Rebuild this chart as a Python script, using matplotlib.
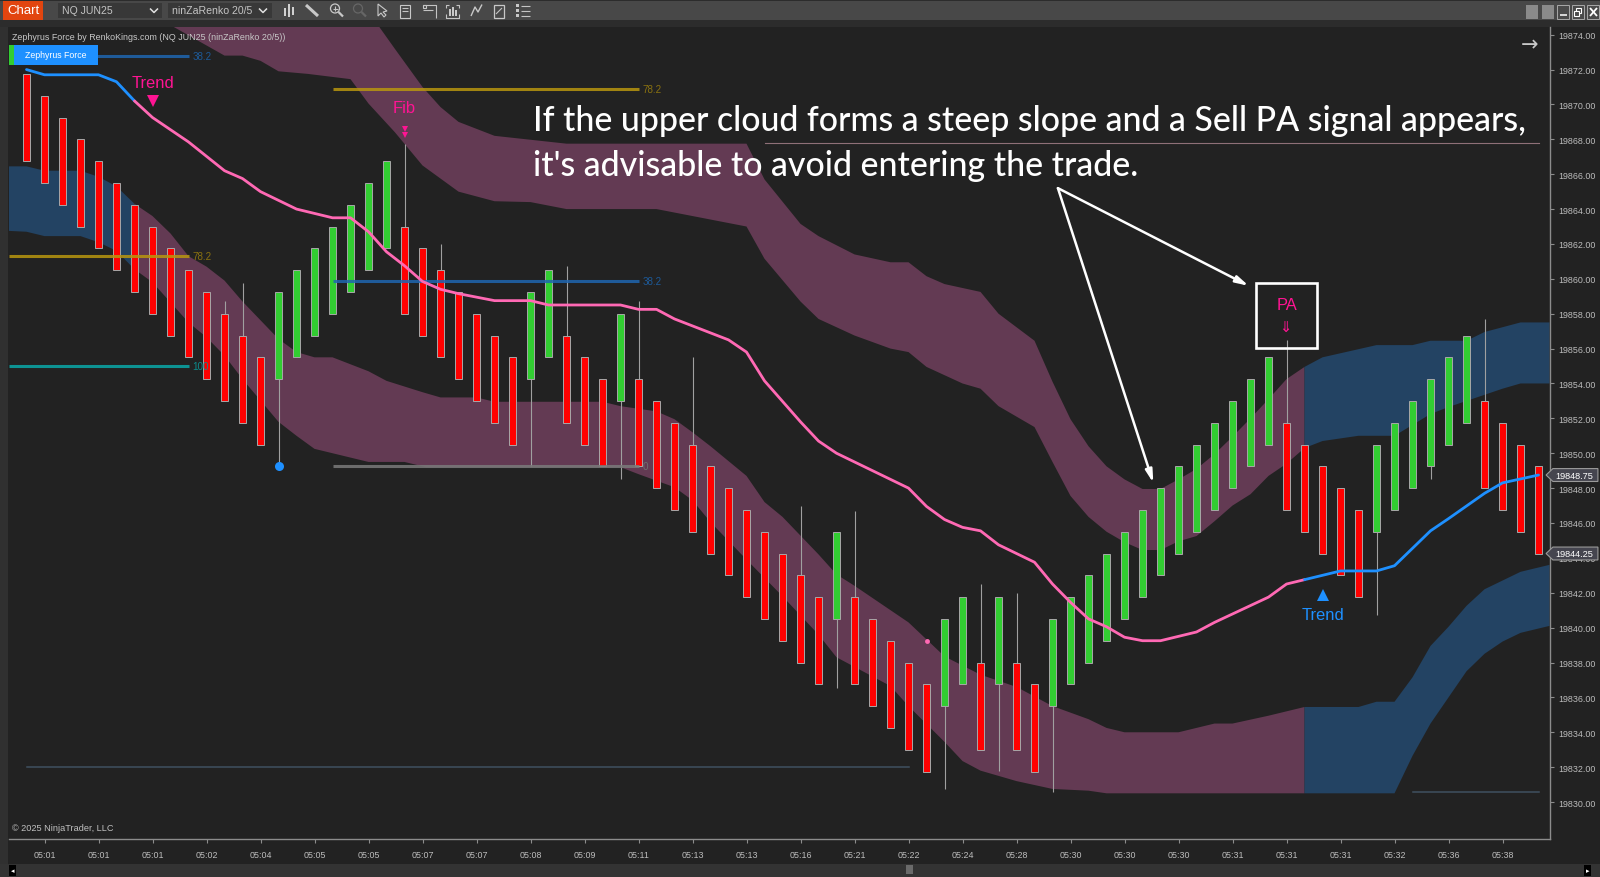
import numpy as np
import matplotlib
matplotlib.use("Agg")
import matplotlib.pyplot as plt
from matplotlib.patches import Rectangle, Polygon

plt.rcParams['font.family'] = ['Liberation Sans', 'DejaVu Sans']

# Renko bars: top of each body, R = down bar, G = up bar
bar_top = [19871.75, 19870.5, 19869.25, 19868, 19866.75, 19865.5, 19864.25, 19863, 19861.75, 19860.5,
           19859.25, 19858, 19856.75, 19855.5, 19859.25, 19860.5, 19861.75, 19863, 19864.25, 19865.5,
           19866.75, 19863, 19861.75, 19860.5, 19859.25, 19858, 19856.75, 19855.5, 19859.25, 19860.5,
           19856.75, 19855.5, 19854.25, 19858, 19854.25, 19853, 19851.75, 19850.5, 19849.25, 19848,
           19846.75, 19845.5, 19844.25, 19843, 19841.75, 19845.5, 19841.75, 19840.5, 19839.25, 19838,
           19836.75, 19840.5, 19841.75, 19838, 19841.75, 19838, 19836.75, 19840.5, 19841.75, 19843,
           19844.25, 19845.5, 19846.75, 19848, 19849.25, 19850.5, 19851.75, 19853, 19854.25, 19855.5,
           19851.75, 19850.5, 19849.25, 19848, 19846.75, 19850.5, 19851.75, 19853, 19854.25, 19855.5,
           19856.75, 19853, 19851.75, 19850.5, 19849.25]
bar_dir = "RRRRRRRRRRRRRRGGGGGGGRRRRRRRGGRRRGRRRRRRRRRRRGRRRRRGGRGRRGGGGGGGGGGGGGRRRRRGGGGGGRRRR"
brick = 5.0

# Wicks: bar index and the price the wick reaches
wick_idx = [11, 12, 14, 21, 23, 28, 30, 33, 34, 37, 43, 45, 46, 51, 53, 54, 55, 57, 70, 75, 78, 81]
wick_end = [19858.75, 19859.75, 19849.25, 19867.75, 19862, 19849.25, 19860.75, 19848.5, 19858.75, 19855.5,
            19847, 19836.55, 19846.7, 19830.75, 19842.5, 19831.8, 19842, 19830.55, 19856.5, 19840.7,
            19848.5, 19857.7]

# Upper cloud
upper_top_x = [19.56, 20.47, 22, 23, 24, 26, 30, 40, 41, 43, 44, 46, 48, 49, 50, 51, 53, 54, 56, 57, 58, 59, 60,
               61, 62, 63, 64, 65, 66, 67, 68, 69, 70, 71, 72, 75, 77, 78, 80, 81, 83, 84.61]
upper_top_y = [19874.5, 19873.18, 19871.0, 19869.85, 19869.0, 19868.2, 19867.75, 19867.75, 19865.7, 19863.15,
               19862.45, 19861.4, 19860.95, 19860.95, 19860.15, 19859.7, 19859.25, 19858.0, 19856.45, 19854.1,
               19851.95, 19850.4, 19849.25, 19848.5, 19847.95, 19847.95, 19848.5, 19849.1, 19849.95, 19850.95,
               19852.0, 19853.1, 19854.25, 19854.95, 19855.5, 19856.2, 19856.2, 19856.45, 19856.45, 19856.95,
               19857.5, 19857.5]
upper_bot_x = [8.08, 11, 12, 13, 14, 15.64, 18, 19, 20.47, 22, 24, 26, 28, 30, 35, 40, 41, 43, 44, 46, 48, 49,
               50, 52, 53, 54, 56, 57, 58, 59, 60, 61, 62, 63, 64, 65, 66, 67, 68, 69, 70, 71, 72, 74, 76, 78,
               79, 82, 83, 84.61]
upper_bot_y = [19874.5, 19872.8, 19872.8, 19872.5, 19871.9, 19871.75, 19871.45, 19870.05, 19868.4, 19866.5,
               19865.0, 19864.45, 19864.4, 19864.0, 19864.0, 19863.0, 19861.15, 19858.7, 19857.7, 19856.75,
               19856.0, 19855.8, 19854.95, 19854.0, 19853.7, 19852.7, 19851.5, 19849.5, 19847.55, 19846.35,
               19845.5, 19844.9, 19844.45, 19844.45, 19844.95, 19845.25, 19846.1, 19847.0, 19847.65, 19848.7,
               19849.4, 19850.3, 19850.7, 19851.0, 19851.0, 19852.25, 19852.65, 19853.7, 19854.0, 19854.0]

# Lower cloud
lower_top_x = [-1, 0, 1, 3, 4, 5, 6, 7, 8, 9, 10, 11, 12, 14, 15, 16, 17, 19, 20, 22, 23, 25, 26, 32, 33, 35,
               36, 37, 38, 40, 41, 42, 44, 45, 46, 49, 51, 53, 55, 57, 59, 60, 61, 64, 66, 67, 69, 71, 74, 75,
               76, 77, 78, 79, 80, 81, 82, 83, 84.61]
lower_top_y = [19866.45, 19866.45, 19866.2, 19866.2, 19865.85, 19865.3, 19864.3, 19863.6, 19862.6, 19861.3,
               19860.7, 19859.9, 19858.7, 19856.55, 19855.8, 19855.5, 19855.5, 19854.7, 19854.15, 19853.5,
               19853.2, 19853.2, 19852.95, 19852.95, 19852.7, 19852.4, 19851.95, 19851.2, 19850.4, 19848.7,
               19847.2, 19846.35, 19844.2, 19843.05, 19842.4, 19840.3, 19838.35, 19837.3, 19836.6, 19835.5,
               19834.75, 19834.25, 19834.0, 19834.0, 19834.5, 19834.5, 19834.95, 19835.45, 19835.45, 19835.75,
               19835.75, 19837.15, 19838.95, 19840.05, 19841.25, 19842.2, 19842.7, 19843.2, 19843.6]
lower_bot_x = [-1, 0, 1, 3, 4, 5, 6, 7, 8, 9, 10, 11, 12, 14, 15, 16, 19, 21, 22.2, 33, 34, 36, 37, 38, 40,
               42, 44, 45, 48, 49, 51, 52, 53, 55, 57, 59, 60, 71, 76, 77, 78, 79, 80, 81, 82, 83, 84.61]
lower_bot_y = [19862.75, 19862.7, 19862.45, 19862.45, 19862.1, 19861.6, 19860.55, 19859.8, 19858.65, 19857.5,
               19856.65, 19855.6, 19854.25, 19851.8, 19851.0, 19850.25, 19849.5, 19849.5, 19849.2, 19849.2,
               19848.8, 19848.05, 19847.3, 19846.05, 19843.9, 19841.8, 19839.6, 19838.3, 19836.65,
               19835.5, 19833.45, 19832.35, 19831.8, 19831.2, 19830.75, 19830.65, 19830.5, 19830.5, 19830.5,
               19832.65, 19834.5, 19836.0, 19837.5, 19838.5, 19839.2, 19839.7, 19840.1]

# Trend line
trend_x = [0, 1, 4, 5, 6, 7, 9, 11, 12, 13, 15, 17, 18, 19, 20, 21, 22, 23, 24, 26, 28, 29, 33, 34, 35, 36, 37,
           39, 40, 41, 43, 44, 45, 49, 50, 51, 52, 53, 54, 56, 57, 58, 59, 60, 61, 62, 63, 65, 66, 69, 70, 71,
           73, 75, 76, 78, 79, 81, 82, 84]
trend_y = [19872.0, 19871.7, 19871.7, 19871.3, 19870.2, 19869.25, 19867.85, 19866.2, 19865.75, 19865.0, 19864.0,
           19863.5, 19863.5, 19862.7, 19861.55, 19860.75, 19859.85, 19859.4, 19859.15, 19858.75, 19858.75,
           19858.5, 19858.5, 19858.25, 19858.25, 19857.7, 19857.3, 19856.5, 19855.8, 19854.15, 19851.8, 19850.7,
           19850.0, 19848.0, 19846.95, 19846.2, 19845.75, 19845.55, 19844.75, 19843.75, 19842.5, 19841.45,
           19840.5, 19840.05, 19839.45, 19839.25, 19839.25, 19839.75, 19840.3, 19841.75, 19842.5, 19842.75,
           19843.25, 19843.25, 19843.55, 19845.55, 19846.25, 19847.7, 19848.3, 19848.75]

# Axis labels
price_ticks = list(range(19830, 19876, 2))
time_idx = list(range(1, 83, 3))
time_labels = ["05:01", "05:01", "05:01", "05:02", "05:04", "05:05", "05:05", "05:07", "05:07", "05:08",
               "05:09", "05:11", "05:13", "05:13", "05:16", "05:21", "05:22", "05:24", "05:28", "05:30",
               "05:30", "05:30", "05:31", "05:31", "05:31", "05:32", "05:36", "05:38"]

BG = "#222222"
PINK_CLOUD = "#633a53"
BLUE_CLOUD = "#234363"
MAGENTA = "#ff1493"
BLUE = "#1e90ff"
TREND_PINK = "#ff69b4"
AXIS = "#8c8c8c"
LABEL = "#bdbdbd"

fig = plt.figure(figsize=(16, 8.78), dpi=100, facecolor=BG)

# window chrome, drawn in pixels
ui = fig.add_axes([0, 0, 1, 1], zorder=0)
ui.set_xlim(0, 1600)
ui.set_ylim(878, 0)
ui.axis("off")


def box(x0, y0, x1, y1, color, **kw):
    ui.add_patch(Rectangle((x0, y0), x1 - x0, y1 - y0, facecolor=color, edgecolor="none", **kw))


def stroke(xs, ys, color="#c4c4c4", lw=0.8):
    ui.plot(xs, ys, color=color, lw=lw, solid_capstyle="butt")


box(0, 0, 1600, 28, "#2c2c2c")
box(0, 2, 1600, 20.5, "#484848")
box(0, 28, 8, 878, "#303030")
box(0, 865, 1600, 878, "#333333")
box(3, 2, 43, 20.5, "#e2450f")
ui.text(23, 11.5, "Chart", color="white", fontsize=9.5, ha="center", va="center")
box(58, 3.5, 162, 19, "#383838")
box(168, 3.5, 272, 19, "#383838")
ui.text(62, 11.5, "NQ JUN25", color="#c4c4c4", fontsize=7.6, va="center")
ui.text(172, 11.5, "ninZaRenko 20/5", color="#c4c4c4", fontsize=7.6, va="center")
stroke([150, 154, 158], [9.5, 13.5, 9.5], "#e0e0e0", 1.1)
stroke([259, 263, 267], [9.5, 13.5, 9.5], "#e0e0e0", 1.1)

# toolbar icons
for ix, h0, h1 in [(285, 9, 17), (289, 5, 18), (293, 8, 16)]:
    box(ix - 1, h0, ix + 1, h1, "#d0d0d0")
stroke([306, 318], [6, 17], "#c8c8c8", 2.2)
for ix, col in [(335, "#c8c8c8"), (358, "#666666")]:
    ui.add_patch(plt.Circle((ix, 9.5), 4.5, fill=False, ec=col, lw=0.9))
    stroke([ix + 3.5, ix + 8], [13, 17.5], col, 1.6)
stroke([332.5, 337.5], [9.5, 9.5])
stroke([335, 335], [7, 12])
ui.add_patch(Polygon([(378, 5), (378, 17), (381, 14), (384, 18), (386, 16), (383, 13), (387, 12)],
                     fill=False, ec="#c8c8c8", lw=0.8))
ui.add_patch(Rectangle((400, 5.5), 10, 13, fill=False, ec="#c8c8c8", lw=0.8))
stroke([402, 408], [9, 9])
stroke([402, 408], [12, 12])
stroke([423, 436, 436], [5.5, 5.5, 19])
stroke([423, 433], [11, 11])
ui.add_patch(Rectangle((423, 6), 3, 3, fill=False, ec="#c8c8c8", lw=0.8))
stroke([446, 446, 449], [9, 5.5, 5.5])
stroke([456, 459, 459], [5.5, 5.5, 9])
stroke([446, 446, 459, 459], [15, 18.5, 18.5, 15])
for ix, h0 in [(450, 10), (453, 8), (456, 11)]:
    box(ix - 0.8, h0, ix + 0.8, 17, "#c8c8c8")
stroke([471, 475, 478, 482], [17, 8, 13, 5.5], "#c8c8c8", 1.0)
ui.add_patch(Rectangle((494, 5.5), 10, 13, fill=False, ec="#c8c8c8", lw=0.9))
stroke([496, 502], [15, 9])
for iy in [6.5, 11.5, 16.5]:
    box(516, iy - 1.2, 519, iy + 1.2, "#c8c8c8")
    stroke([521, 530], [iy, iy])

# window buttons
for ix0 in [1526, 1542]:
    box(ix0, 6, ix0 + 12, 20, "#8a8a8a")
for ix0 in [1557, 1572, 1587]:
    ui.add_patch(Rectangle((ix0, 6), 12, 14, fc="#4a4a4a", ec="#a8a8a8", lw=0.7))
stroke([1560, 1567], [16, 16], "white", 1.1)
ui.add_patch(Rectangle((1576, 9), 5, 5, fill=False, ec="white", lw=0.8))
ui.add_patch(Rectangle((1574, 11.5), 5, 5, fc="#4a4a4a", ec="white", lw=0.8))
stroke([1590, 1597], [9, 17], "white", 1.3)
stroke([1590, 1597], [17, 9], "white", 1.3)

# scrollbar bits
box(9, 866, 16, 877, "black")
box(1584, 866, 1591, 877, "black")
box(906, 866, 913, 875, "#6a6a6a")
ui.text(12.5, 871.5, "\u25c2", color="white", fontsize=5, ha="center", va="center", family="DejaVu Sans")
ui.text(1587.5, 871.5, "\u25b8", color="white", fontsize=5, ha="center", va="center", family="DejaVu Sans")

# price chart
ax = fig.add_axes([8.5 / 1600, (878 - 840) / 878, 1541 / 1600, 812 / 878], zorder=1)
ax.set_facecolor(BG)
ax.set_xlim(-1.0, 84.61)
ax.set_ylim(19827.88, 19874.44)


def fill_cloud(tx, ty, bx, by, x0, x1, color):
    tx, ty, bx, by = map(np.array, (tx, ty, bx, by))
    t = (tx >= x0) & (tx <= x1)
    b = (bx >= x0) & (bx <= x1)
    xs = np.concatenate([tx[t], bx[b][::-1]])
    ys = np.concatenate([ty[t], by[b][::-1]])
    ax.fill(xs, ys, color=color, lw=0, zorder=1)


fill_cloud(upper_top_x, upper_top_y, upper_bot_x, upper_bot_y, 0, 71, PINK_CLOUD)
fill_cloud(upper_top_x, upper_top_y, upper_bot_x, upper_bot_y, 71, 85, BLUE_CLOUD)
fill_cloud(lower_top_x, lower_top_y, lower_bot_x, lower_bot_y, -1, 6, BLUE_CLOUD)
fill_cloud(lower_top_x, lower_top_y, lower_bot_x, lower_bot_y, 6, 71, PINK_CLOUD)
fill_cloud(lower_top_x, lower_top_y, lower_bot_x, lower_bot_y, 71, 85, BLUE_CLOUD)

# thin reference lines
ax.plot([0, 49], [19832, 19832], color="#3f5060", lw=1.1, zorder=2)
ax.plot([77, 84], [19830.55, 19830.55], color="#3f5060", lw=1.1, zorder=2)
ax.plot([41, 84], [19867.77, 19867.77], color="#8f7078", lw=0.8, zorder=2)

# wicks and bodies
for i, end in zip(wick_idx, wick_end):
    top = bar_top[i]
    start = top if end > top else top - brick
    ax.vlines(i, start, end, color="#a0a0a0", lw=0.8, zorder=3)
for i, top in enumerate(bar_top):
    col = "#ff0000" if bar_dir[i] == "R" else "#32cd32"
    ax.add_patch(Rectangle((i - 0.2, top - brick), 0.4, brick, facecolor=col, edgecolor="#a8a8a8", lw=0.7, zorder=4))

# fib levels
fib_lines = [(-1, 9.03, 19872.75, "#1f66b0", "38.2", "#1d5a99"),
             (-1, 9.03, 19861.3, "#b8960f", "78.2", "#8a7210"),
             (-1, 9.03, 19855.0, "#0aa8a8", "100", "#0c8c8c"),
             (17.03, 34.03, 19870.9, "#b8960f", "78.2", "#8a7210"),
             (17.03, 34.03, 19859.85, "#1f66b0", "38.2", "#1d5a99"),
             (17.03, 34.03, 19849.25, "#7a7a7a", "0", "#6f6f6f")]
for x0, x1, lvl, col, txt, tcol in fib_lines:
    ax.plot([x0, x1], [lvl, lvl], color=col, lw=2.2, alpha=0.85, zorder=5, solid_capstyle="butt")
    ax.text(x1 + 0.2, lvl, txt, color=tcol, fontsize=7.1, va="center", zorder=5)

# trend line, pink between the two blue legs
trend_x_arr = np.array(trend_x)
trend_y_arr = np.array(trend_y)
for lo, hi, col in [(0, 6, BLUE), (6, 71, TREND_PINK), (71, 84, BLUE)]:
    m = (trend_x_arr >= lo) & (trend_x_arr <= hi)
    ax.plot(trend_x_arr[m], trend_y_arr[m], color=col, lw=2.0, zorder=6, solid_capstyle="round")

# signals
ax.plot(14, 19849.25, "o", color=BLUE, ms=6.5, mew=0, zorder=6)
ax.plot(50, 19839.25, "o", color=TREND_PINK, ms=3.5, mew=0, zorder=6)
ax.text(7, 19871.25, "Trend", color=MAGENTA, fontsize=11.9, ha="center", va="center", zorder=7)
ax.plot(7, 19870.2, "v", color=MAGENTA, ms=8.5, mew=0, zorder=7)
ax.text(21, 19869.8, "Fib", color=MAGENTA, fontsize=11.9, ha="center", va="center", zorder=7)
ax.plot([21, 21], [19868.62, 19868.27], "v", color=MAGENTA, ms=5, mew=0, zorder=7)
ax.plot(72, 19841.85, "^", color=BLUE, ms=8.5, mew=0, zorder=7)
ax.text(72, 19840.75, "Trend", color=BLUE, fontsize=11.9, ha="center", va="center", zorder=7)

# PA box
ax.add_patch(Rectangle((68.28, 19856.05), 3.42, 3.71, fill=False, ec="white", lw=1.9, zorder=7))
ax.text(70, 19858.55, "PA", color=MAGENTA, fontsize=11.9, ha="center", va="center", zorder=8)
ax.text(70, 19857.25, "\u21d3", color=MAGENTA, fontsize=10.5, ha="center", va="center", zorder=8, family="DejaVu Sans")

# callout text and arrows
for y, line in [(19868.55, "If the upper cloud forms a steep slope and a Sell PA signal appears,"),
                (19865.96, "it's advisable to avoid entering the trade.")]:
    ax.text(28.15, y, line, color="white", fontsize=24.4, family="Lato", fontweight="medium", va="baseline", zorder=8)
for tip in [(62.6, 19848.3), (67.9, 19859.6)]:
    ax.annotate("", xy=tip, xytext=(57.3, 19865.2), zorder=8,
                arrowprops=dict(arrowstyle="-|>,head_length=0.75,head_width=0.2", color="white", lw=1.8,
                                shrinkA=0, shrinkB=0))

# chart header
ax.text(-0.78, 19873.9, "Zephyrus Force by RenkoKings.com (NQ JUN25 (ninZaRenko 20/5))", color="#c8c8c8",
        fontsize=6.4, va="center", ha="left", zorder=8)
ui2 = fig.add_axes([0, 0, 1, 1], zorder=2)
ui2.set_xlim(0, 1600)
ui2.set_ylim(878, 0)
ui2.axis("off")
ui2.add_patch(Rectangle((8.5, 46), 5, 20, fc="#32cd32", ec="none"))
ui2.add_patch(Rectangle((14, 46), 84, 20, fc=BLUE, ec="none"))
ui2.text(56, 56, "Zephyrus Force", color="white", fontsize=6.3, ha="center", va="center")
ui2.text(12, 829, "\u00a9 2025 NinjaTrader, LLC", color="#c0c0c0", fontsize=6.6, va="center")
ui2.text(1530, 45, "\u2192", color="#c8c8c8", fontsize=15, ha="center", va="center", family="DejaVu Sans")

# axes
for s in ["left", "top"]:
    ax.spines[s].set_visible(False)
for s in ["right", "bottom"]:
    ax.spines[s].set_color(AXIS)
    ax.spines[s].set_linewidth(1.0)
ax.yaxis.tick_right()
ax.set_yticks(price_ticks)
ax.set_yticklabels([f"{p:.2f}" for p in price_ticks])
ax.set_xticks(time_idx)
ax.set_xticklabels(time_labels)
ax.tick_params(axis="both", colors=LABEL, labelsize=6.4, length=3, width=0.8, pad=3)
ax.tick_params(axis="y", color=AXIS)
ax.tick_params(axis="x", color=AXIS, pad=5)

# last price flags
for price in [19848.75, 19844.25]:
    ax.fill([84.42, 84.8, 87.3, 87.3, 84.8], [price, price + 0.37, price + 0.37, price - 0.37, price - 0.37],
            facecolor="#45454f", edgecolor="#9a9a9a", lw=0.8, clip_on=False, zorder=9)
    ax.text(86.0, price, f"{price:.2f}", color="white", fontsize=6.6, ha="center", va="center", clip_on=False, zorder=10)

fig.savefig("out.png", dpi=100, facecolor=BG)
